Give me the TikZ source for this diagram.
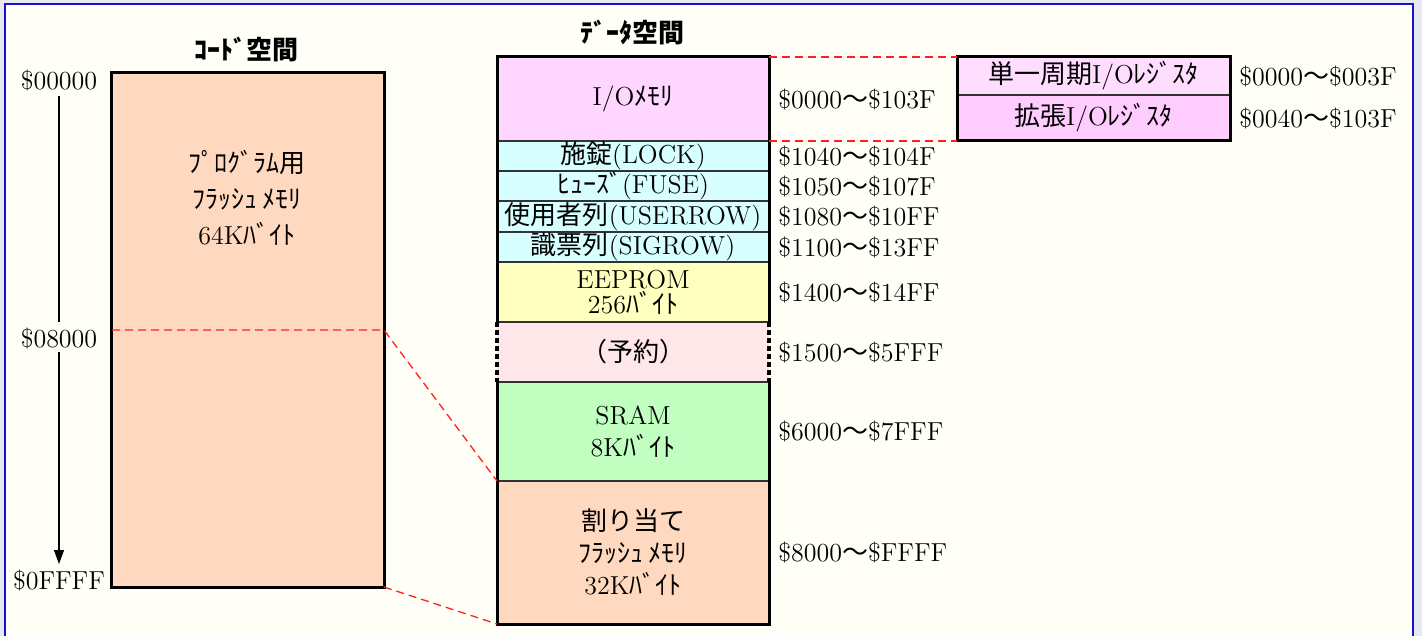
\documentclass[tikz,border=0pt]{standalone}
\usepackage{fontspec}
\newfontfamily\jpfont{Noto Sans CJK JP}
\usetikzlibrary{arrows.meta,fit}
\newcommand\jt[1]{{\jpfont #1}}
\definecolor{outbg}{RGB}{232,232,240}
\definecolor{inbg}{RGB}{255,255,248}
\definecolor{frameblue}{RGB}{20,20,200}
\definecolor{divgray}{RGB}{50,50,50}
\definecolor{iocol}{RGB}{255,214,255}
\definecolor{cyancol}{RGB}{216,255,255}
\definecolor{eepcol}{RGB}{255,255,192}
\definecolor{rsvcol}{RGB}{255,230,232}
\definecolor{sramcol}{RGB}{192,255,192}
\definecolor{flashcol}{RGB}{255,217,191}
\definecolor{reg1col}{RGB}{255,221,255}
\definecolor{reg2col}{RGB}{255,204,255}
\definecolor{dashred}{RGB}{255,32,32}
\begin{document}
\begin{tikzpicture}[x=0.5pt,y=-0.5pt,font=\fontsize{13}{16}\selectfont,
  mbox/.style={draw=divgray,line width=0.9pt,inner sep=0pt,outer sep=0pt},
  outer/.style={draw=black,line width=1.5pt,line join=miter},
  rsvside/.style={draw=black,line width=1.6pt,dash pattern=on 2.5pt off 1.5pt},
  reddash/.style={draw=dashred,line width=0.65pt,dash pattern=on 4pt off 2.5pt},
  addr/.style={anchor=west,inner sep=0pt},
  ttl/.style={font=\fontsize{13}{16}\selectfont\jpfont\bfseries}]
\useasboundingbox (0,0) rectangle (1422,636);
\fill[outbg] (0,0) rectangle (1422,636);
\draw[frameblue,line width=0.75pt,fill=inbg] (5,4) rectangle (1413,650);

% titles
\node[ttl] (tcode) at (246,50) {ｺｰﾄﾞ空間};
\node[ttl] (tdata) at (632,33) {ﾃﾞｰﾀ空間};

% code space
\node[mbox,outer,fill=flashcol,fit={(111,73) (384,587)}] (code) {};
\node[align=center,font=\fontsize{13}{18}\selectfont] (codetxt) at (247,198)
  {\jt{ﾌﾟﾛｸﾞﾗﾑ用}\\\jt{ﾌﾗｯｼｭ ﾒﾓﾘ}\\64K\jt{ﾊﾞｲﾄ}};
\coordinate (c8w) at (112,330);
\coordinate (c8e) at (384,330);

% left address labels and arrow
\node (l00) at (59,80) {\$00000};
\node (l08) at (59,338) {\$08000};
\node (l0F) at (59,580) {\$0FFFF};
\coordinate (a0) at (59,96);
\coordinate (a1) at (59,322);
\coordinate (a2) at (59,352);
\coordinate (a3) at (59,564);
\draw[line width=0.6pt] (a0) -- (a1);
\draw[line width=0.6pt,-{Triangle[length=7pt,width=5pt]}] (a2) -- (a3);

% data space
\node[mbox,fill=iocol,fit={(497,57) (769,141)}] (io) {};
\node[mbox,fill=cyancol,fit={(497,141) (769,171)}] (lock) {};
\node[mbox,fill=cyancol,fit={(497,171) (769,201)}] (fuse) {};
\node[mbox,fill=cyancol,fit={(497,201) (769,232)}] (user) {};
\node[mbox,fill=cyancol,fit={(497,232) (769,262)}] (sig) {};
\node[mbox,fill=rsvcol,draw=none,fit={(497,322) (769,382)}] (rsv) {};
\node[mbox,fill=eepcol,fit={(497,262) (769,322)}] (eep) {};
\node[mbox,fill=sramcol,fit={(497,382) (769,481)}] (sram) {};
\node[mbox,fill=flashcol,fit={(497,481) (769,624)}] (flash) {};
\draw[outer] (eep.south west) -- (io.north west) -- (io.north east) -- (eep.south east);
\draw[rsvside] (rsv.north west) -- (rsv.south west);
\draw[rsvside] (rsv.north east) -- (rsv.south east);
\draw[outer] (sram.north west) -- (flash.south west) -- (flash.south east) -- (sram.north east);

\node (tio) at (io) {I/O\jt{ﾒﾓﾘ}};
\node (tlock) at (lock) {\jt{施錠}(LOCK)};
\node (tfuse) at (fuse) {\jt{ﾋｭｰｽﾞ}(FUSE)};
\node (tuser) at (user) {\jt{使用者列}(USERROW)};
\node (tsig) at (sig) {\jt{識票列}(SIGROW)};
\node[align=center] (teep) at (eep) {EEPROM\\[-3.5pt]256\jt{ﾊﾞｲﾄ}};
\node (trsv) at (rsv) {\jt{（予約）}};
\node[align=center] (tsram) at (sram) {SRAM\\8K\jt{ﾊﾞｲﾄ}};
\node[align=center] (tflash) at (flash) {\jt{割り当て}\\\jt{ﾌﾗｯｼｭ ﾒﾓﾘ}\\32K\jt{ﾊﾞｲﾄ}};

% data addresses
\node[addr] (aio) at (778,99) {\$0000\jt{～}\$103F};
\node[addr] (alock) at (778,156) {\$1040\jt{～}\$104F};
\node[addr] (afuse) at (778,186) {\$1050\jt{～}\$107F};
\node[addr] (auser) at (778,216.5) {\$1080\jt{～}\$10FF};
\node[addr] (asig) at (778,247) {\$1100\jt{～}\$13FF};
\node[addr] (aeep) at (778,292) {\$1400\jt{～}\$14FF};
\node[addr] (arsv) at (778,352) {\$1500\jt{～}\$5FFF};
\node[addr] (asram) at (778,431.5) {\$6000\jt{～}\$7FFF};
\node[addr] (aflash) at (778,552.5) {\$8000\jt{～}\$FFFF};

% register box
\node[mbox,fill=reg1col,fit={(957,57) (1230,95)}] (reg1) {};
\node[mbox,fill=reg2col,fit={(957,95) (1230,141)}] (reg2) {};
\draw[outer] (reg1.north west) rectangle (reg2.south east);
\node (treg1) at (reg1) {\jt{単一周期}I/O\jt{ﾚｼﾞｽﾀ}};
\node (treg2) at (reg2) {\jt{拡張}I/O\jt{ﾚｼﾞｽﾀ}};
\node[addr] (areg1) at (1239,76) {\$0000\jt{～}\$003F};
\node[addr] (areg2) at (1239,118) {\$0040\jt{～}\$103F};

% red dashed connectors
\draw[reddash] (io.north east) -- (reg1.north west);
\draw[reddash] (io.south east) -- (reg2.south west);
\draw[reddash] (c8w) -- (c8e) -- (flash.north west);
\draw[reddash] (code.south east) -- (flash.south west);
\end{tikzpicture}
\end{document}
